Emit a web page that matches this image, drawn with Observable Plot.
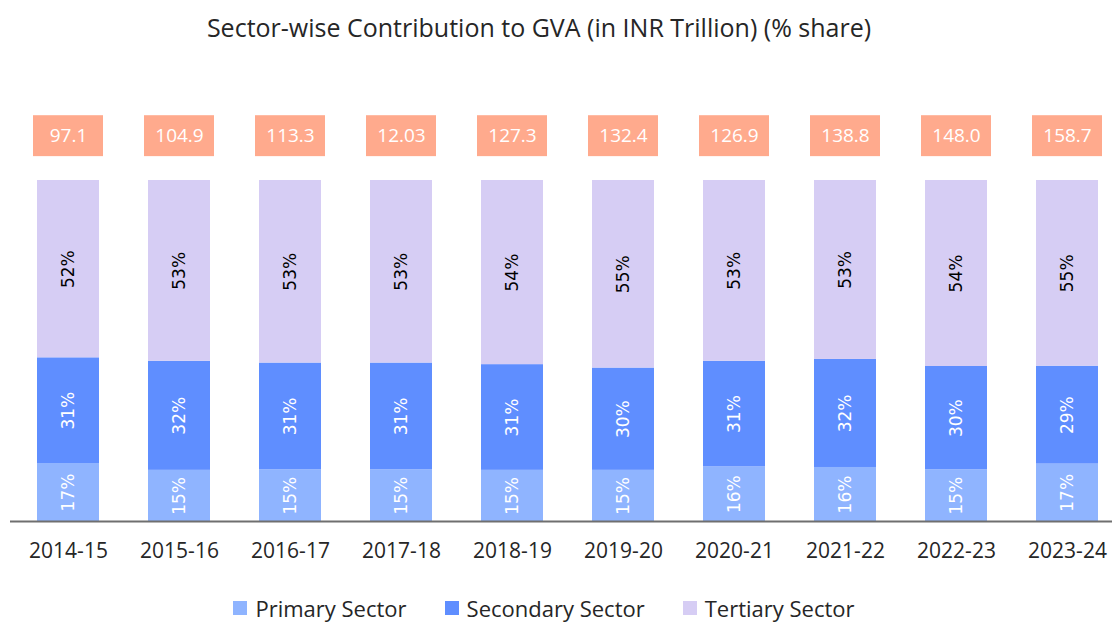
<!DOCTYPE html>
<html><head><meta charset="utf-8">
<script src="https://cdn.jsdelivr.net/npm/d3@7"></script>
<script src="https://cdn.jsdelivr.net/npm/@observablehq/plot@0.6"></script>
<style>
body{margin:0;background:#fff;font-family:"Open Sans",sans-serif;width:1112px;}
#title{height:60px;line-height:54px;text-align:center;font-size:25px;color:#262626;padding-right:34px;}
#legend{display:flex;justify-content:center;gap:38px;font-size:22px;color:#262626;padding-right:24px;padding-top:8px;}
#legend .item{display:flex;align-items:center;gap:8px;}
#legend .sw{width:14px;height:14px;display:inline-block;}
</style></head><body>
<div id="title">Sector-wise Contribution to GVA (in INR Trillion) (% share)</div>
<div id="chart"></div>
<div id="legend"></div>
<script>
const years = ["2014-15","2015-16","2016-17","2017-18","2018-19","2019-20","2020-21","2021-22","2022-23","2023-24"];
const primary = [17,15,15,15,15,15,16,16,15,17];
const secondary = [31,32,31,31,31,30,31,32,30,29];
const tertiary = [52,53,53,53,54,55,53,53,54,55];
const totals = ["97.1","104.9","113.3","12.03","127.3","132.4","126.9","138.8","148.0","158.7"];
const sectors = ["Primary Sector","Secondary Sector","Tertiary Sector"];
const colors = ["#8fb4ff","#5f8eff","#d6cdf4"];

const series = [primary, secondary, tertiary];
const rows = [];
years.forEach((y, i) => series.forEach((arr, k) => rows.push({year: y, sector: sectors[k], value: arr[i]})));
const totalRows = years.map((y, i) => ({year: y, total: totals[i]}));

const stackOpts = {x: "year", y: "value", z: "sector", offset: "normalize"};

const chart = Plot.plot({
  width: 1112, height: 525,
  marginTop: 120, marginBottom: 64, marginLeft: 10, marginRight: 0,
  style: {fontFamily: "Open Sans", fontSize: "21px", color: "#262626", background: "white"},
  x: {domain: years, paddingInner: 0.44, paddingOuter: 0.17, align: 0.658, label: null, tickSize: 0, tickPadding: 22},
  y: {domain: [0, 1], axis: null},
  color: {domain: sectors, range: colors},
  marks: [
    Plot.barY(rows, Plot.stackY({...stackOpts, fill: "sector"})),
    Plot.text(rows, Plot.stackY({...stackOpts, text: d => d.sector !== "Tertiary Sector" ? d.value + "%" : null,
      rotate: -90, fill: "white", fontFamily: "DejaVu Sans", fontSize: 17})),
    Plot.text(rows, Plot.stackY({...stackOpts, text: d => d.sector === "Tertiary Sector" ? d.value + "%" : null,
      rotate: -90, fill: "black", fontFamily: "DejaVu Sans", fontSize: 17})),
    Plot.ruleY([0], {stroke: "#6f6f6f", strokeWidth: 2}),
    Plot.barY(totalRows, {x: "year", y1: 1.07, y2: 1.19, fill: "#ffaa8d", insetLeft: -4, insetRight: -4}),
    Plot.text(totalRows, {x: "year", y: 1.13, text: "total", fill: "white", fontSize: 19})
  ]
});
document.getElementById("chart").appendChild(chart);

const legend = document.getElementById("legend");
sectors.forEach((s, k) => {
  const item = document.createElement("div");
  item.className = "item";
  const sw = document.createElement("span");
  sw.className = "sw";
  sw.style.background = colors[k];
  const t = document.createElement("span");
  t.textContent = s;
  item.appendChild(sw); item.appendChild(t);
  legend.appendChild(item);
});
</script>
</body></html>
